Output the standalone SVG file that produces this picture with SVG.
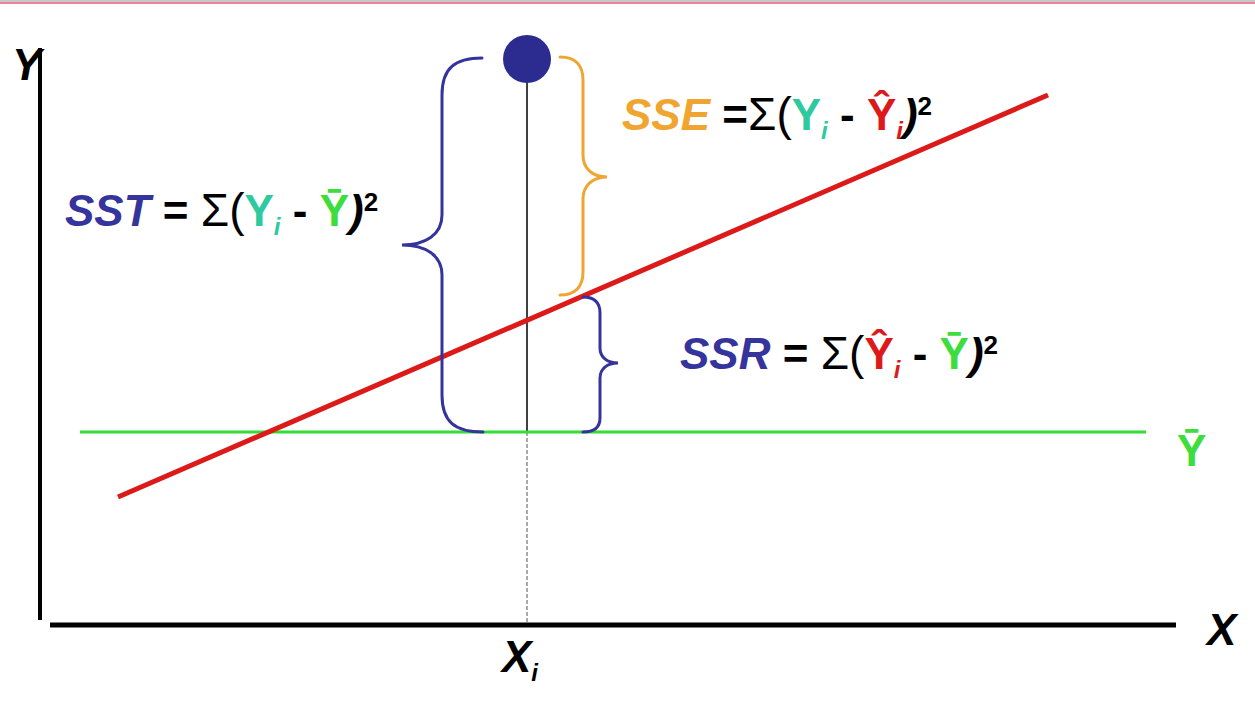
<svg xmlns="http://www.w3.org/2000/svg" width="1255" height="724" viewBox="0 0 1255 724">
<style>
text{font-family:"Liberation Sans",Arial,sans-serif;font-weight:bold;font-style:italic;font-size:44px;fill:#000}
.blue{fill:#34349c}.orange{fill:#f0a531}.teal{fill:#2fc9a0}.red{fill:#dd1a1a}.green{fill:#3ddd3d}
.up{font-style:normal}
.sig{font-style:normal;font-weight:normal;font-size:46px}
.sub{font-size:24px}.sup{font-size:26px;font-style:normal}
.brace{fill:none;stroke-width:3;stroke-linecap:round}
</style>
<rect x="0" y="0" width="1255" height="2" fill="#c8c8c8"/>
<rect x="0" y="2" width="1255" height="2" fill="#e9829d"/>
<g id="axes">
<line x1="40" y1="48" x2="40" y2="620" stroke="#000" stroke-width="4"/>
<line x1="50" y1="625" x2="1176" y2="625" stroke="#000" stroke-width="5"/>
<text x="12" y="80">Y</text>
<text x="1207" y="645">X</text>
<text x="502" y="672">X<tspan class="sub" dy="9">i</tspan></text>
</g>
<g id="connectors">
<line x1="527" y1="70" x2="527" y2="432" stroke="#000" stroke-width="1.5"/>
<line x1="527" y1="432" x2="527" y2="623" stroke="#555" stroke-width="1" stroke-dasharray="4,2"/>
<line x1="80" y1="432" x2="1146" y2="432" stroke="#33dd33" stroke-width="3"/>
<line x1="118" y1="497" x2="1048" y2="95" stroke="#dd1a1a" stroke-width="5"/>
<path class="brace" stroke="#34349c" d="M482,58 C455,58 442,68 442,95 L442,215 C442,235 425,245 402,245 C425,245 442,255 442,275 L442,395 C442,422 455,432 483,432"/>
<path class="brace" stroke="#f0a531" d="M560,57 C575,57 583,65 583,80 L583,155 C583,168 592,177 607,177 C592,177 583,186 583,199 L583,272 C583,287 575,295 560,295"/>
<path class="brace" stroke="#34349c" d="M583,297 C595,297 600,303 600,313 L600,348 C600,357 607,363 618,363 C607,363 600,369 600,378 L600,418 C600,427 595,432 583,432"/>
</g>
<g id="point"><circle cx="527" cy="59" r="24" fill="#2b2b90"/></g>
<g id="sst">
<text x="65" y="226"><tspan class="blue">SST</tspan><tspan class="up"> = </tspan><tspan class="sig">Σ(</tspan><tspan class="teal up">Y</tspan><tspan class="teal sub" dy="9">i</tspan><tspan dy="-9" class="up"> - </tspan><tspan class="green up">Ȳ</tspan><tspan>)</tspan><tspan class="sup" dy="-15">2</tspan></text>
</g>
<g id="sse">
<text x="622" y="130"><tspan class="orange">SSE</tspan><tspan class="up"> =</tspan><tspan class="sig">Σ(</tspan><tspan class="teal up">Y</tspan><tspan class="teal sub" dy="9">i</tspan><tspan dy="-9" class="up"> - </tspan><tspan class="red up">Ŷ</tspan><tspan class="red sub" dy="9">i</tspan><tspan dy="-9">)</tspan><tspan class="sup" dy="-15">2</tspan></text>
</g>
<g id="ssr">
<text x="680" y="369"><tspan class="blue">SSR</tspan><tspan class="up"> = </tspan><tspan class="sig">Σ(</tspan><tspan class="red up">Ŷ</tspan><tspan class="red sub" dy="9">i</tspan><tspan dy="-9" class="up"> - </tspan><tspan class="green up">Ȳ</tspan><tspan>)</tspan><tspan class="sup" dy="-15">2</tspan></text>
</g>
<g id="ybar">
<text x="1177" y="466" class="green up">Ȳ</text>
</g>
</svg>
